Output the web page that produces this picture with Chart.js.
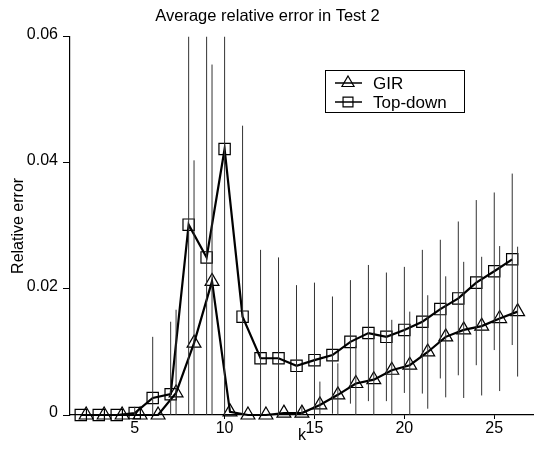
<!DOCTYPE html>
<html>
<head>
<meta charset="utf-8">
<script src="https://cdn.jsdelivr.net/npm/chart.js@4"></script>
<style>
    body { margin: 0; background: #fff; }
    #wrap { width: 543px; height: 457px; }
</style>
</head>
<body>
<div id="wrap"><canvas id="chart" width="543" height="457"></canvas></div>
<script>
// values
var kValues = [2, 3, 4, 5, 6, 7, 8, 9, 10, 11, 12, 13, 14, 15, 16, 17, 18, 19, 20, 21, 22, 23, 24, 25, 26];

var girError = [0, 0, 0, 0, 0, 0.0035, 0.0114, 0.0212, 0.0005, 0, 0, 0.0003, 0.0003, 0.0016, 0.0032,
    0.005, 0.0056, 0.0071, 0.0079, 0.01, 0.0124, 0.0135, 0.0141, 0.0153, 0.0164];
var topDownError = [0, 0, 0, 0.0003, 0.0027, 0.0033, 0.0302, 0.025, 0.0422, 0.0156, 0.009, 0.009, 0.0078,
    0.0087, 0.0095, 0.0116, 0.013, 0.0124, 0.0135, 0.0148, 0.0168, 0.0185, 0.021, 0.0228, 0.0247];

// half length of the vertical bars
var girSpread = [0, 0, 0, 0, 0, 0.0132, 0.029, 0.0344, 0, 0, 0, 0, 0.001, 0.0037, 0.005,
    0.006, 0.0075, 0.008, 0.0085, 0.009, 0.0096, 0.0108, 0.011, 0.0115, 0.0103];
var topDownSpread = [0, 0, 0, 0.001, 0.0097, 0.0115, 0.035, 0.04, 0.045, 0.0303, 0.0172, 0.016, 0.0128,
    0.0123, 0.0093, 0.0098, 0.0108, 0.0102, 0.01, 0.0114, 0.011, 0.0122, 0.0131, 0.0125, 0.0136];

var xTicks = [5, 10, 15, 20, 25];
var yTicks = [0, 0.02, 0.04, 0.06];
var yTickLabels = ["0", "0.02", "0.04", "0.06"];

// GIR markers sit a little to the right of the k value in the original
var GIR_SHIFT = 0.3;

function points(values, shift) {
    return kValues.map((k, i) => ({ x: k + shift, y: values[i] }));
}

function errorBars(values, spread, shift) {
    var pts = [];
    for (var i = 0; i < kValues.length; i++) {
        if (!spread[i]) continue;
        var x = kValues[i] + shift;
        pts.push({ x: x, y: values[i] - spread[i] });
        pts.push({ x: x, y: values[i] + spread[i] });
        pts.push({ x: x, y: null });
    }
    return pts;
}

Chart.defaults.font.family = "'Liberation Sans', Arial, sans-serif";
Chart.defaults.color = "#000";

var legendBox = {
    id: "legendBox",
    afterDraw(chart) {
        var ctx = chart.ctx;
        var rows = [
            { label: "GIR", style: "triangle", y: 83 },
            { label: "Top-down", style: "rect", y: 102 }
        ];
        ctx.save();
        ctx.strokeStyle = "#000";
        ctx.lineWidth = 1;
        ctx.strokeRect(325.5, 70.5, 139, 42);
        ctx.font = "17px 'Liberation Sans', Arial, sans-serif";
        ctx.textBaseline = "middle";
        ctx.fillStyle = "#000";
        rows.forEach(r => {
            ctx.lineWidth = 1.5;
            ctx.beginPath();
            ctx.moveTo(335, r.y);
            ctx.lineTo(362, r.y);
            ctx.stroke();
            ctx.fillStyle = "rgba(0,0,0,0)";
            ctx.lineWidth = 1.2;
            Chart.helpers.drawPoint(ctx, { pointStyle: r.style, radius: 7, borderWidth: 1.2, rotation: 0 }, 348, r.y);
            ctx.fillStyle = "#000";
            ctx.fillText(r.label, 373, r.y + 1);
        });
        ctx.restore();
    }
};

new Chart(
    document.getElementById("chart"),
    {
        type: "line",
        data: {
            datasets: [
                {
                    label: "GIR bars",
                    data: errorBars(girError, girSpread, GIR_SHIFT),
                    borderColor: "#333",
                    borderWidth: 1,
                    pointRadius: 0,
                    spanGaps: false
                },
                {
                    label: "Top-down bars",
                    data: errorBars(topDownError, topDownSpread, 0),
                    borderColor: "#333",
                    borderWidth: 1,
                    pointRadius: 0,
                    spanGaps: false
                },
                {
                    label: "GIR",
                    data: points(girError, GIR_SHIFT),
                    borderColor: "#000",
                    borderWidth: 2.2,
                    pointStyle: "triangle",
                    pointRadius: 8,
                    pointBorderWidth: 1.2,
                    pointBorderColor: "#000",
                    pointBackgroundColor: "rgba(0,0,0,0)",
                    clip: false
                },
                {
                    label: "Top-down",
                    data: points(topDownError, 0),
                    borderColor: "#000",
                    borderWidth: 2.2,
                    pointStyle: "rect",
                    pointRadius: 8,
                    pointBorderWidth: 1.2,
                    pointBorderColor: "#000",
                    pointBackgroundColor: "rgba(0,0,0,0)",
                    clip: false
                }
            ]
        },
        options: {
            responsive: false,
            animation: false,
            devicePixelRatio: 1,
            layout: { padding: { left: 0, right: 8, top: 0, bottom: 0 } },
            plugins: {
                legend: { display: false },
                tooltip: { enabled: false },
                title: {
                    display: true,
                    text: "Average relative error in Test 2",
                    color: "#000",
                    font: { size: 16.5, weight: "normal" },
                    padding: { top: 7, bottom: 10 }
                }
            },
            scales: {
                x: {
                    type: "linear",
                    min: 1.4,
                    max: 27.2,
                    afterBuildTicks: scale => { scale.ticks = xTicks.map(v => ({ value: v })); },
                    afterFit: scale => { scale.height = 42; },
                    ticks: { font: { size: 16 }, padding: 0, maxRotation: 0 },
                    grid: { drawOnChartArea: false, drawTicks: true, tickLength: 4, color: "#000" },
                    border: { display: true, color: "#000", width: 1.2 },
                    title: { display: true, text: "k", font: { size: 16 }, padding: { top: 0, bottom: 12 } }
                },
                y: {
                    min: 0,
                    max: 0.06,
                    afterBuildTicks: scale => { scale.ticks = yTicks.map(v => ({ value: v })); },
                    afterFit: scale => { scale.width = 70; },
                    ticks: {
                        font: { size: 16 },
                        padding: 5,
                        labelOffset: -2,
                        callback: (value, index) => yTickLabels[index]
                    },
                    grid: { drawOnChartArea: false, drawTicks: true, tickLength: 7, color: "#000" },
                    border: { display: true, color: "#000", width: 1.2 },
                    title: { display: true, text: "Relative error", font: { size: 16 }, padding: { top: 9, bottom: 0 } }
                }
            }
        },
        plugins: [legendBox]
    }
);
</script>
</body>
</html>
